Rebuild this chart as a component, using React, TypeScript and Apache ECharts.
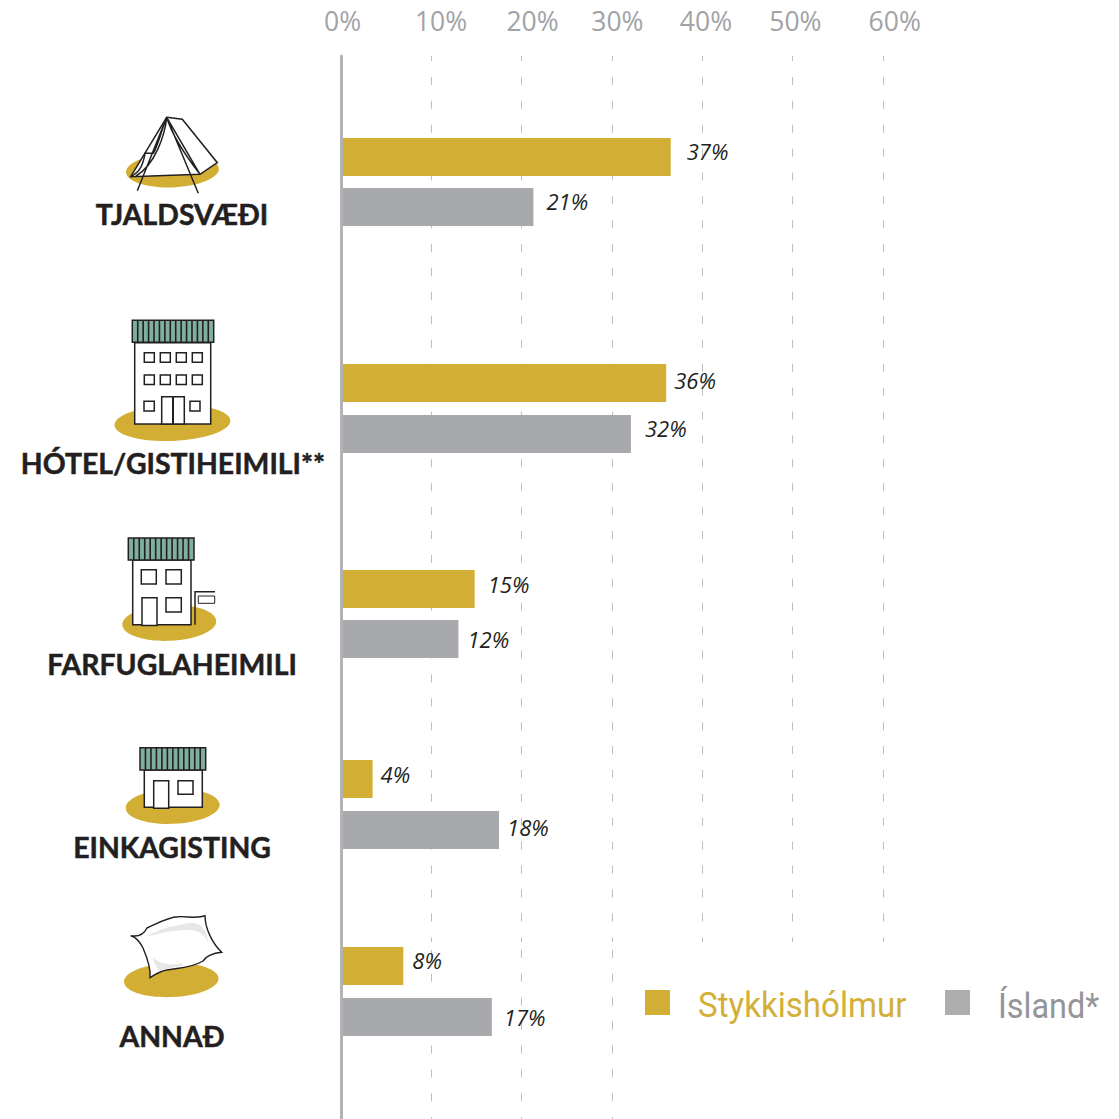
import React, { useEffect, useRef } from "react";
import * as echarts from "echarts";

const categories = ["TJALDSVÆÐI", "HÓTEL/GISTIHEIMILI**", "FARFUGLAHEIMILI", "EINKAGISTING", "ANNAÐ"];
const seriesNames = ["Stykkishólmur", "Ísland*"];
const stykkisholmurBars = [36.5, 36, 14.8, 3.5, 6.9];
const islandBars = [21.3, 32.1, 13, 17.5, 16.7];
const stykkisholmurLabels = ["37%", "36%", "15%", "4%", "8%"];
const islandLabels = ["21%", "32%", "12%", "18%", "17%"];
const tickLabels = ["0%", "10%", "20%", "30%", "40%", "50%", "60%"];

// layout, not data
const tickLabelAnchors = [0.17, 11.07, 21.2, 30.6, 40.4, 50.3, 61.3];
const groupTops = [132, 357.5, 564, 753.5, 940.5];
const groupHeights = [100, 102, 100, 102, 102];
const goldOffsets = [[16, -6], [8, -3], [13, -5], [8, -5], [9, -6]];
const greyOffsets = [[13, -6], [14, -6], [9, 0], [8, -3], [12, 0]];
const labelCentres = [[182, 213.5], [173, 462.5], [172, 663.5], [172, 846.5], [172, 1035.5]];

const GOLD = "#D2AF34";
const GREY = "#A8A9AD";
const INK = "#231F20";
const TEAL = "#7FAF9F";
const PX = 9.033;
const LEFT = 341;

let shapeCount = 0;
function pathEl(d: string, style: any) {
  const name = "icon" + shapeCount++;
  echarts.graphic.registerShape(name, (echarts.graphic as any).extendPath(d, {}));
  return { type: name, x: 0, y: 0, style };
}
const strokeStyle = { fill: "none", stroke: INK, lineWidth: 1.5 };
const whiteBox = { fill: "#fff", stroke: INK, lineWidth: 1.5 };

function box(x0: number, y0: number, x1: number, y1: number, style: any = whiteBox) {
  return { type: "rect", shape: { x: x0, y: y0, width: x1 - x0, height: y1 - y0 }, style };
}
function blob(cx: number, cy: number, rx: number, ry: number) {
  return { type: "ellipse", shape: { cx, cy, rx, ry }, rotation: 0.04, originX: cx, originY: cy, style: { fill: GOLD } };
}
function roof(x0: number, y0: number, x1: number, y1: number, count: number) {
  const lines: string[] = [];
  const step = (x1 - x0) / count;
  for (let i = 1; i < count; i++) lines.push(`M${x0 + step * i},${y0}L${x0 + step * i},${y1}`);
  return [
    box(x0, y0, x1, y1, { fill: TEAL, stroke: INK, lineWidth: 1.5 }),
    pathEl(lines.join(""), { fill: "none", stroke: INK, lineWidth: 1.6 }),
  ];
}

function icons() {
  const tent = [
    blob(172.5, 170.5, 46.5, 17),
    pathEl("M166.7,117.3L182.3,119.3L217.3,162.7L200,174.3L130.7,176.7Z", { fill: "#fff", stroke: INK, lineWidth: 1.5 }),
    pathEl(
      "M166.7,117.3L137.3,190.7M166.7,117.3L198.3,193.3M166.7,117.3L200,174.3M166.7,117.3C172,135 185,155 200,174.3" +
        "M166.7,117.3C160,135 158,145 153.3,153.3L145,153.3C143,165 140,172 130.7,176.7M166.7,117.3C165,135 155,165 136,176",
      strokeStyle
    ),
  ];
  const hotel: any[] = [blob(172.5, 423, 58, 18), box(134.7, 342.7, 210.7, 424), ...roof(132.3, 320.3, 213.7, 342.3, 15)];
  for (const y of [352.7, 375]) {
    for (const x of [144.3, 160.3, 176.3, 192.3]) hotel.push(box(x, y, x + 10, y + 9.5));
  }
  hotel.push(box(144, 401.3, 154.3, 411), box(190, 401.3, 200, 411), box(161.7, 396.7, 184.3, 424));
  hotel.push(pathEl("M173,396.7L173,424", { fill: "none", stroke: INK, lineWidth: 2 }));

  const hostel: any[] = [
    blob(169.3, 623, 47, 18),
    box(132.7, 560, 191, 624.7),
    ...roof(128.3, 538, 194, 560, 12),
    box(141.3, 569.7, 156.3, 584),
    box(166, 569.7, 181.3, 584),
    box(166, 597.7, 181.3, 612),
    box(142, 597.7, 157, 625.5),
    pathEl("M195,624.7L195,591.7L215,591.7", strokeStyle),
    box(198.3, 596, 214.7, 603.3, { fill: "#fff", stroke: INK, lineWidth: 1 }),
  ];
  const home: any[] = [
    blob(172.7, 806.5, 47, 17.5),
    box(144.3, 770, 202.3, 807.3),
    ...roof(140, 747.7, 205.7, 770, 12),
    box(153.7, 780.7, 168.7, 808.3),
    box(178, 780.7, 193, 794.3),
  ];
  const pillow: any[] = [
    blob(171.3, 980.3, 47.3, 17),
    pathEl(
      "M130.7,935.7C138,937 144,934 147,928C158,923 168,917 178,916.7C187,916 197,919 205,915.7" +
        "C205,928 212,943 221.7,952.3C214,953 207,955 203,961C192,968 178,968 166.7,970C160,971 154,975 150,977.7" +
        "C151,968 146,955 143,948C140,942 136,937 130.7,935.7Z",
      { fill: "#fff", stroke: INK, lineWidth: 1.4 }
    ),
    pathEl(
      "M146.7,936.7C156,931 166,927 176.7,925.5C186,923 197,921 202,927C206,932 208,938 208.3,943.3C206,937 202,932 194,930.5C182,929 166,932 146.7,936.7Z",
      { fill: "#E6E7E8" }
    ),
    pathEl("M152.7,956.7C154,963 156,968 160,970.5C168,968 176,967 182.7,965.7L182.7,963.3C172,965 160,965 152.7,956.7Z", { fill: "#E6E7E8" }),
  ];
  return [...tent, ...hotel, ...hostel, ...home, ...pillow];
}

function legendText(text: string, x: number, fill: string, scaleX: number) {
  return {
    type: "text",
    x,
    y: 1005,
    scaleX,
    style: {
      text,
      fill,
      fontFamily: "Roboto",
      fontSize: 36,
      align: "left",
      verticalAlign: "middle",
      textAlign: "left",
      textVerticalAlign: "middle",
    },
  };
}

function buildOption() {
  const grid: any[] = [
    { left: LEFT, top: 56, width: 60 * PX, height: 886 },
    { left: LEFT, top: 942, width: 30 * PX, height: 177 },
    { left: LEFT, top: 56, width: 70 * PX, height: 1063 },
  ];
  const gridLine = (offset: number) => ({
    show: true,
    lineStyle: { color: "#BDBEC0", width: 1, type: [8, 15.9], dashOffset: offset },
  });
  const plain = { axisLine: { show: false }, axisTick: { show: false }, axisLabel: { show: false }, splitLine: { show: false } };
  const xAxis: any[] = [
    { ...plain, gridIndex: 0, type: "value", min: 0, max: 60, interval: 10, splitLine: gridLine(2.6) },
    { ...plain, gridIndex: 1, type: "value", min: 0, max: 30, interval: 10, splitLine: gridLine(15.5) },
    {
      ...plain,
      gridIndex: 2,
      type: "value",
      position: "top",
      min: 0,
      max: 70,
      axisLabel: {
        show: true,
        customValues: tickLabelAnchors,
        formatter: (v: number) => tickLabels[tickLabelAnchors.indexOf(v)],
        color: "#A1A3A6",
        fontFamily: "Open Sans",
        fontSize: 26.5,
        margin: 22,
      },
    },
  ];
  const yAxis: any[] = [
    { ...plain, gridIndex: 0, type: "value", min: 0, max: 1 },
    { ...plain, gridIndex: 1, type: "value", min: 0, max: 1 },
    {
      ...plain,
      gridIndex: 2,
      type: "value",
      min: 0,
      max: 1,
      z: 5,
      offset: -0.7,
      axisLine: { show: true, lineStyle: { color: "#B3B3B6", width: 3 } },
    },
  ];
  const series: any[] = [];
  categories.forEach((_c, i) => {
    const g = grid.length;
    grid.push({ left: LEFT, top: groupTops[i], width: 60 * PX, height: groupHeights[i] });
    xAxis.push({ ...plain, gridIndex: g, type: "value", min: 0, max: 60 });
    yAxis.push({ ...plain, gridIndex: g, type: "category", inverse: true, data: seriesNames });
    const common = {
      type: "bar",
      xAxisIndex: g,
      yAxisIndex: g,
      barWidth: 38,
      barGap: "-100%",
      z: 3,
    };
    const label = (text: string, offset: number[]) => ({
      show: true,
      position: "right",
      distance: 0,
      offset,
      formatter: text,
      color: "#231F20",
      fontFamily: "Open Sans",
      fontStyle: "italic",
      fontSize: 22,
    });
    series.push({
      ...common,
      name: seriesNames[0],
      itemStyle: { color: GOLD },
      data: [{ value: stykkisholmurBars[i], label: label(stykkisholmurLabels[i], goldOffsets[i]) }, "-"],
    });
    series.push({
      ...common,
      name: seriesNames[1],
      itemStyle: { color: GREY },
      data: ["-", { value: islandBars[i], label: label(islandLabels[i], greyOffsets[i]) }],
    });
  });

  const legendBase = {
    orient: "horizontal",
    top: 990,
    itemWidth: 25,
    itemHeight: 25,
    icon: "rect",
    selectedMode: false,
    padding: 0,
    formatter: () => "",
  };

  const labels = categories.map((text, i) => ({
    type: "text",
    x: labelCentres[i][0],
    y: labelCentres[i][1],
    style: {
      text,
      fill: "#231F20",
      stroke: "#231F20",
      lineWidth: 0.5,
      fontFamily: "Lato",
      fontWeight: "bold",
      fontSize: 28.4,
      align: "center",
      verticalAlign: "middle",
      textAlign: "center",
      textVerticalAlign: "middle",
    },
  }));

  return {
    animation: false,
    backgroundColor: "#fff",
    grid,
    xAxis,
    yAxis,
    series,
    legend: [
      { ...legendBase, left: 645, data: [{ name: seriesNames[0], itemStyle: { color: GOLD } }] },
      { ...legendBase, left: 945, data: [{ name: seriesNames[1], itemStyle: { color: "#ADADAF" } }] },
    ],
    graphic: {
      elements: [
        ...icons(),
        ...labels,
        legendText(seriesNames[0], 698, "#D4AF37", 0.92),
        legendText(seriesNames[1], 998, "#939598", 0.9),
      ],
    },
  };
}

export default function App() {
  const ref = useRef<HTMLDivElement>(null);
  useEffect(() => {
    const chart = echarts.init(ref.current!, undefined, { renderer: "svg" });
    chart.setOption(buildOption() as any);
    return () => chart.dispose();
  }, []);
  return <div ref={ref} style={{ position: "fixed", left: 0, top: 0, width: 1119, height: 1119 }} />;
}
